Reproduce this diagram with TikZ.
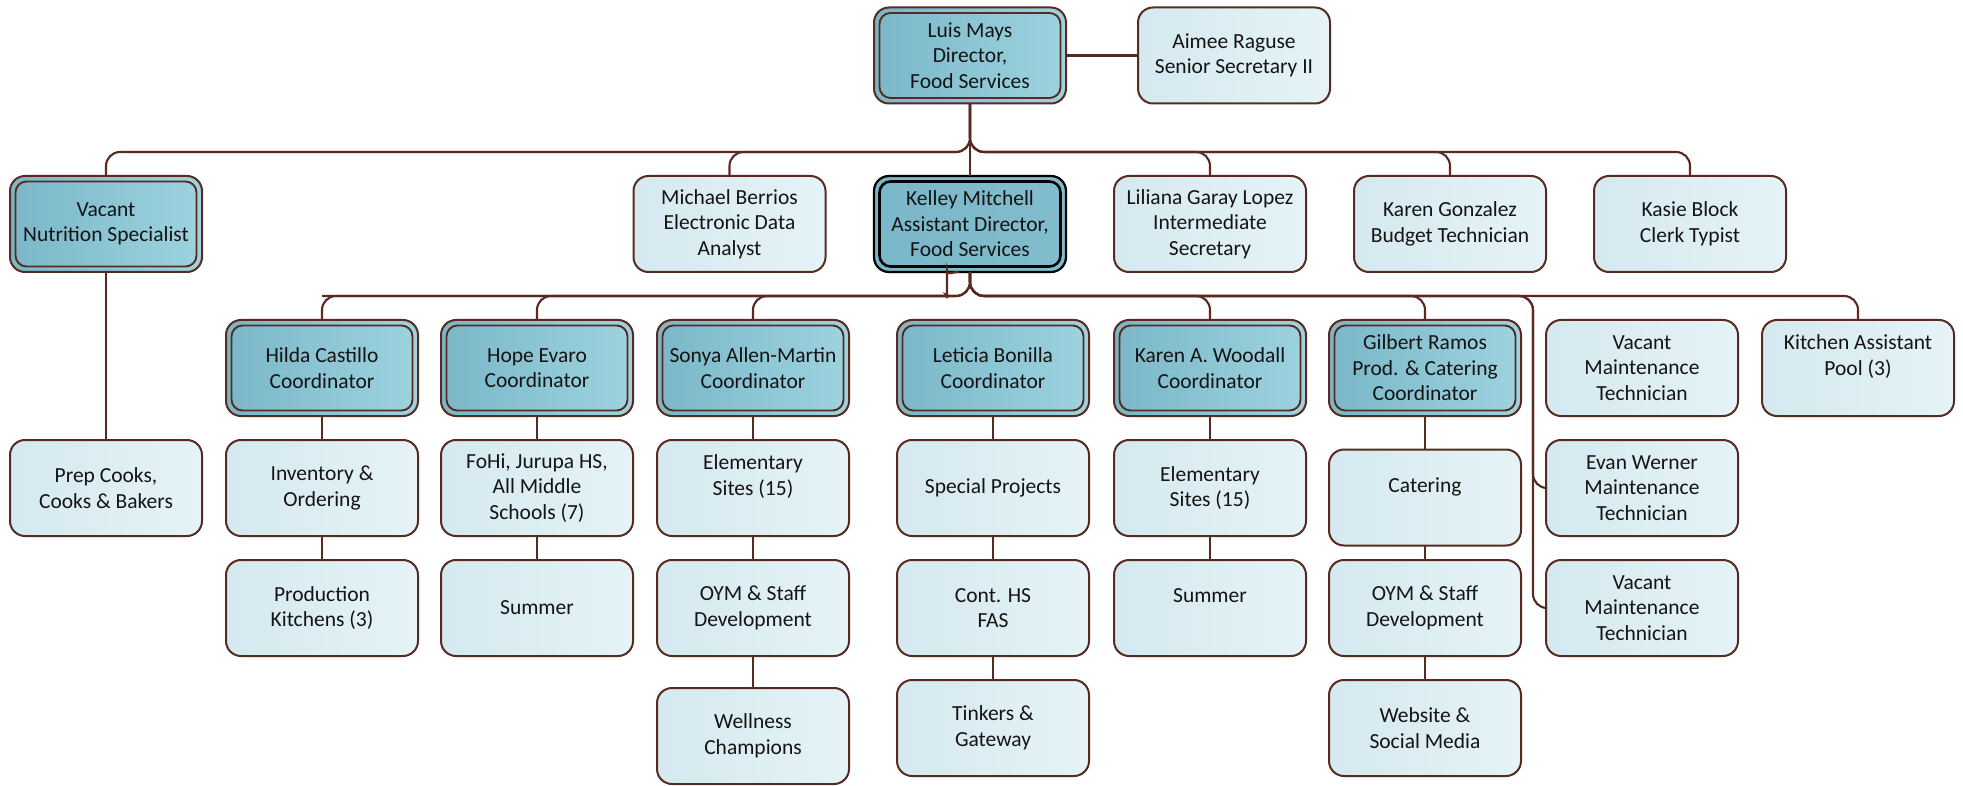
\documentclass[tikz,border=0pt]{standalone}
\usepackage{fontspec}
\setmainfont{Carlito}
\usetikzlibrary{calc}
\definecolor{bordc}{RGB}{88,42,32}
\definecolor{dkA}{RGB}{122,183,200}
\definecolor{dkB}{RGB}{158,211,223}
\definecolor{ltA}{RGB}{213,233,240}
\definecolor{ltB}{RGB}{229,243,247}
\definecolor{txt}{RGB}{20,20,20}
\tikzset{
  box/.style={rectangle, rounded corners=15pt, minimum width=192pt, minimum height=96pt,
    inner sep=0pt, outer sep=0pt, align=center, text=txt, font=\fontsize{21.5}{25.5}\selectfont,
    draw=bordc, line width=2pt},
  lbox/.style={box, left color=ltA, right color=ltB},
  dbox/.style={box, left color=dkA, right color=dkB},
  kbox/.style={box, draw=black, line width=2.2pt, left color=dkA, right color=dkA!80!dkB},
  inframe/.style={draw=bordc, line width=1.9pt, rounded corners=11pt},
  kframe/.style={draw=black, line width=2.6pt, rounded corners=11pt},
  conn/.style={draw=bordc, line width=2.1pt, rounded corners=14pt}
}
\begin{document}
\begin{tikzpicture}[x=1pt,y=-1pt]
\useasboundingbox (0,0) rectangle (1963,786);
\coordinate (bar1) at (0,152);
\coordinate (bar2) at (0,296);
\coordinate (mx) at (1533,296);
% row 0
\node[dbox] (luis) at (970,55.5) {Luis Mays\\Director,\\Food Services};
\node[lbox] (aimee) at (1234,55.5) {Aimee Raguse\\Senior Secretary II};
% row 1
\node[dbox] (nutr) at (106,224) {Vacant\\Nutrition Specialist};
\node[lbox] (michael) at (729.5,224) {Michael Berrios\\Electronic Data\\Analyst};
\node[kbox] (kelley) at (970,224) {Kelley Mitchell\\Assistant Director,\\Food Services};
\node[lbox] (liliana) at (1210,224) {Liliana Garay Lopez\\Intermediate\\Secretary};
\node[lbox] (karen) at (1450,224) {Karen Gonzalez\\Budget Technician};
\node[lbox] (kasie) at (1690,224) {Kasie Block\\Clerk Typist};
% row 2
\node[dbox] (hilda) at (322,368) {Hilda Castillo\\Coordinator};
\node[dbox] (hope) at (537,368) {Hope Evaro\\Coordinator};
\node[dbox] (sonya) at (753,368) {Sonya Allen-Martin\\Coordinator};
\node[dbox] (leticia) at (993,368) {Leticia Bonilla\\Coordinator};
\node[dbox] (woodall) at (1210,368) {Karen A. Woodall\\Coordinator};
\node[dbox] (gilbert) at (1425,368) {Gilbert Ramos\\Prod. \& Catering\\Coordinator};
\node[lbox] (maint1) at (1642,368) {Vacant\\Maintenance\\Technician};
\node[lbox] (kitchen) at (1858,368) {Kitchen Assistant\\Pool (3)\\~};
% row 3
\node[lbox] (prep) at (106,488) {Prep Cooks,\\Cooks \& Bakers};
\node[lbox] (inv) at (322,488) {Inventory \&\\Ordering};
\node[lbox] (fohi) at (537,488) {FoHi, Jurupa HS,\\All Middle\\Schools (7)};
\node[lbox] (elem1) at (753,488) {Elementary\\Sites (15)\\~};
\node[lbox] (spec) at (993,488) {Special Projects};
\node[lbox] (elem2) at (1210,488) {Elementary\\Sites (15)};
\node[lbox] (catering) at (1425,497.5) {Catering\\~};
\node[lbox] (evan) at (1642,488) {Evan Werner\\Maintenance\\Technician};
% row 4
\node[lbox] (prod) at (322,608) {Production\\Kitchens (3)};
\node[lbox] (summer1) at (537,608) {Summer};
\node[lbox] (oym1) at (753,608) {OYM \& Staff\\Development};
\node[lbox] (cont) at (993,608) {Cont. HS\\FAS};
\node[lbox] (summer2) at (1210,608) {Summer\\~};
\node[lbox] (oym2) at (1425,608) {OYM \& Staff\\Development};
\node[lbox] (maint3) at (1642,608) {Vacant\\Maintenance\\Technician};
% row 5
\node[lbox] (well) at (753,736) {Wellness\\Champions};
\node[lbox] (tink) at (993,728) {Tinkers \&\\Gateway};
\node[lbox] (web) at (1425,728) {Website \&\\Social Media};
% inner frames of the double-bordered boxes
\foreach \n in {luis,nutr,hilda,hope,sonya,leticia,woodall,gilbert}
  \draw[inframe] ($(\n.north west)+(5.5,5.5)$) rectangle ($(\n.south east)+(-5.5,-5.5)$);
\draw[kframe] ($(kelley.north west)+(5.5,5.5)$) rectangle ($(kelley.south east)+(-5.5,-5.5)$);
% connectors from Luis
\draw[conn] (luis.east) -- (aimee.west);
\draw[conn] (luis.south) -- (kelley.north);
\foreach \c in {nutr,michael,liliana,karen,kasie}
  \draw[conn] (luis.south) -- (luis.south |- bar1) -| (\c.north);
\draw[conn] (nutr.south) -- (prep.north);
% connectors from Kelley
\foreach \c in {hilda,hope,sonya,woodall,gilbert,kitchen}
  \draw[conn] (kelley.south) -- (kelley.south |- bar2) -| (\c.north);
\draw[conn] ($(kelley.south)+(-11,0)$) .. controls +(-8,0) and +(0,-8) .. ($(kelley.south)+(-23,12)$)
  .. controls +(0,8) and +(8,0) .. ($(kelley.south |- bar2)+(-35,0)$) -- (hilda.north |- bar2);
\draw[conn] (kelley.south) -- (kelley.south |- bar2) -- (mx) |- (evan.west);
\draw[conn] (kelley.south) -- (kelley.south |- bar2) -- (mx) |- (maint3.west);
% vertical chains
\draw[conn] (hilda.south) -- (inv.north);
\draw[conn] (inv.south) -- (prod.north);
\draw[conn] (hope.south) -- (fohi.north);
\draw[conn] (fohi.south) -- (summer1.north);
\draw[conn] (sonya.south) -- (elem1.north);
\draw[conn] (elem1.south) -- (oym1.north);
\draw[conn] (oym1.south) -- (well.north);
\draw[conn] (leticia.south) -- (spec.north);
\draw[conn] (spec.south) -- (cont.north);
\draw[conn] (cont.south) -- (tink.north);
\draw[conn] (woodall.south) -- (elem2.north);
\draw[conn] (elem2.south) -- (summer2.north);
\draw[conn] (gilbert.south) -- (catering.north);
\draw[conn] (catering.south) -- (oym2.north);
\draw[conn] (oym2.south) -- (web.north);
\end{tikzpicture}
\end{document}
